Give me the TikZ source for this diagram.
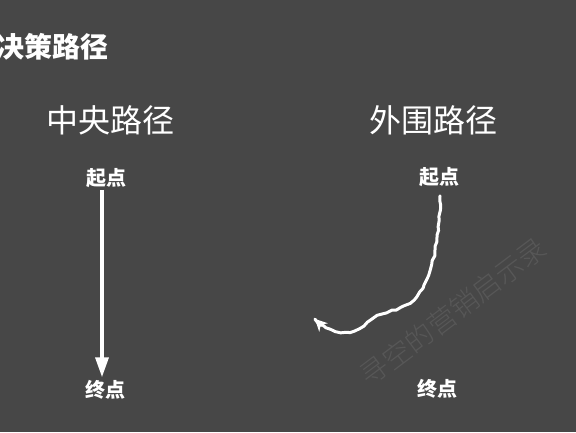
\documentclass[tikz,border=0pt]{standalone}
\usepackage{fontspec}
\newfontfamily\cjk{Noto Sans CJK SC}
\newfontfamily\cjklight{Noto Sans CJK SC Light}
\usetikzlibrary{positioning,arrows.meta,decorations.pathmorphing}
\definecolor{slate}{HTML}{474747}

\begin{document}
\begin{tikzpicture}[x=1pt,y=-1pt,node distance=1cm,
    heading/.style={text=white, font=\cjk\bfseries\fontsize{28}{32}\selectfont, inner sep=0pt},
    pathname/.style={text=white, font=\cjk\fontsize{32}{38}\selectfont, inner sep=0pt},
    point/.style={text=white, font=\cjk\bfseries\fontsize{20}{24}\selectfont, inner sep=0pt},
    path/.style={draw=white, line width=3.5pt},
    wobbly/.style={draw=white, line width=3pt, line cap=round, line join=round,
        decorate, decoration={random steps, segment length=5pt, amplitude=0.9pt}}
    ]

    \clip (0,0) rectangle (576,432);
    \fill[slate] (0,0) rectangle (576,432);

    \node[heading, anchor=west] (title) at (-4,47) {决策路径};

    \node[pathname] (central) at (110,120) {中央路径};
    \node[pathname] (outer) at (433,120) {外围路径};

    \node[point] (start_1) at (106,178) {起点};
    \node[point] (end_1) at (105,390) {终点};
    \node[point] (start_2) at (439,177) {起点};
    \node[point] (end_2) at (437,389) {终点};

    \coordinate (tip) at (315,319);

    \draw[path, -{Triangle[length=20pt, width=13pt]}] ([xshift=-4pt,yshift=-2pt]start_1.south) -- ([xshift=-3pt,yshift=3pt]end_1.north);

    % hand drawn curve, arrow head drawn on its own
    \draw[wobbly] ([xshift=1pt,yshift=-9pt]start_2.south) .. controls (440,250) and (428,285) .. (414,300)
        .. controls (400,312) and (378,310) .. (368,323)
        .. controls (356,335) and (335,338) .. (tip);
    \draw[white, line width=3pt, -{Stealth[length=12pt, width=12pt]}] (322,326) -- (tip);

    % watermark
    \node[text=white, opacity=0.09, rotate=37, font=\cjklight\fontsize{28}{32}\selectfont] (mark) at (453,312) {寻空的营销启示录};
\end{tikzpicture}
\end{document}
